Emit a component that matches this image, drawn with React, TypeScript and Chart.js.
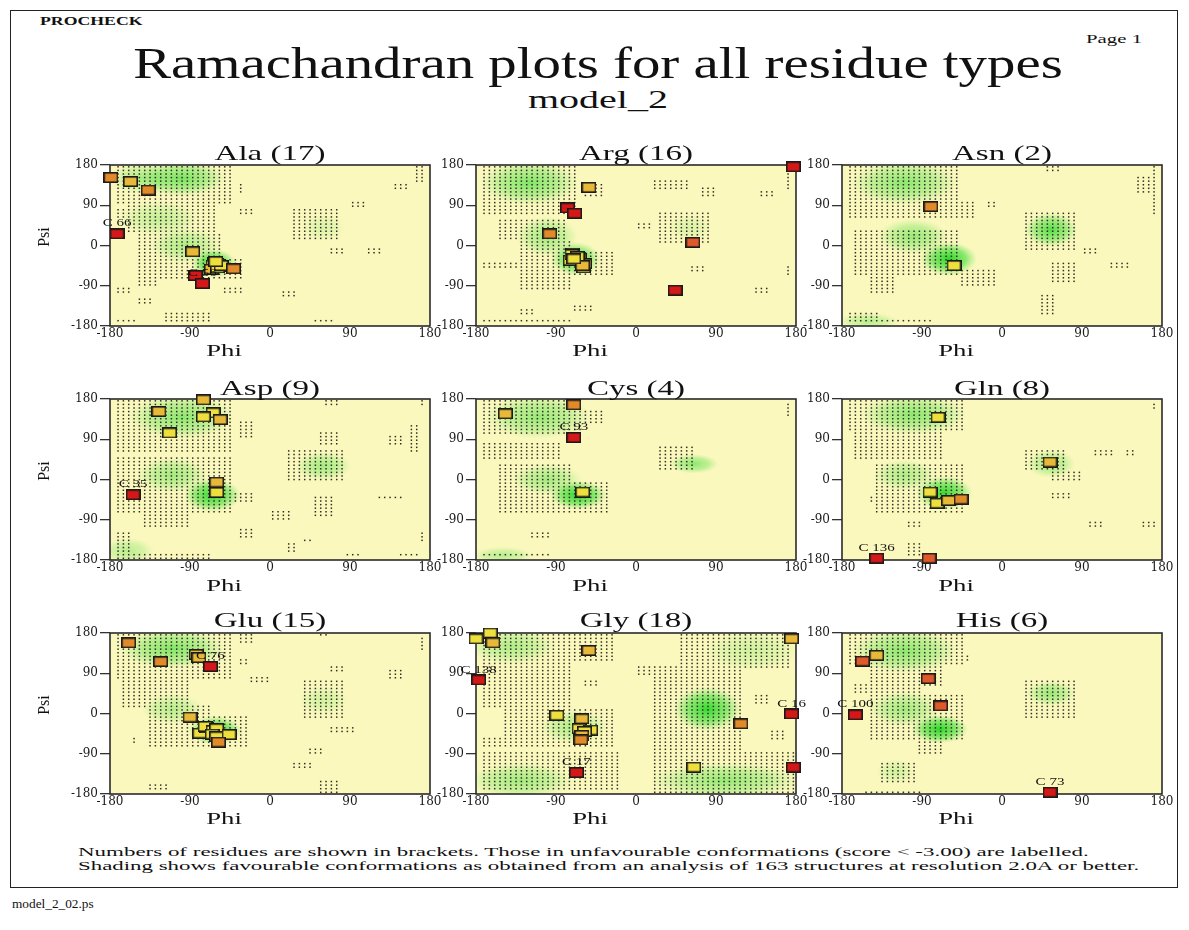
import React, { useEffect, useLayoutEffect, useRef, useState } from "react";
import { Chart, registerables } from "chart.js";
Chart.register(...registerables);

// ---------- axis ticks ----------
const AXIS_TICKS = [-180, -90, 0, 90, 180];
const TICK_LABELS = ["-180", "-90", "0", "90", "180"];

// ---------- residue data (phi, psi, colour class 0=yellow .. 4=red) ----------
const ALA_PHI = [-179, -157, -137, -172, -87, -62, -60, -58, -64, -57, -66, -59, -55, -61, -41, -84, -76];
const ALA_PSI = [152, 143, 124, 26, -14, -38, -40, -42, -44, -47, -53, -50, -45, -36, -52, -67, -85];
const ALA_CLS = [2, 1, 2, 4, 1, 0, 0, 0, 0, 0, 1, 0, 0, 0, 2, 4, 4];
const ALA_LABELS: [number, string][] = [[3, "C 66"], [16, "C 56"]];

const ARG_PHI = [177, -53, -77, -69, -97, -71, -74, -64, -59, -58, -72, -66, -60, -70, 64, 44];
const ARG_PSI = [176, 130, 84, 72, 26, -17, -33, -28, -50, -41, -20, -25, -45, -30, 7, -100];
const ARG_CLS = [4, 1, 4, 4, 2, 0, 0, 0, 0, 0, 0, 0, 1, 0, 3, 4];
const ARG_LABELS: [number, string][] = [];

const ASN_PHI = [-80, -54];
const ASN_PSI = [87, -45];
const ASN_CLS = [2, 0];
const ASN_LABELS: [number, string][] = [];

const ASP_PHI = [-75, -125, -64, -75, -56, -113, -60, -60, -154];
const ASP_PSI = [178, 152, 149, 140, 134, 104, -6, -29, -34];
const ASP_CLS = [1, 1, 0, 0, 1, 0, 1, 0, 4];
const ASP_LABELS: [number, string][] = [[8, "C 35"]];

const CYS_PHI = [-147, -70, -70, -60];
const CYS_PSI = [147, 167, 94, -28];
const CYS_CLS = [1, 2, 4, 0];
const CYS_LABELS: [number, string][] = [[2, "C 93"]];

const GLN_PHI = [-72, 54, -81, -73, -60, -46, -141, -82];
const GLN_PSI = [139, 39, -28, -53, -47, -44, -176, -176];
const GLN_CLS = [0, 1, 0, 0, 1, 2, 4, 3];
const GLN_LABELS: [number, string][] = [[6, "C 136"]];

const GLU_PHI = [-159, -123, -83, -80, -67, -90, -79, -71, -73, -64, -60, -65, -60, -46, -58];
const GLU_PSI = [158, 116, 132, 125, 105, -8, -44, -32, -29, -38, -34, -46, -52, -47, -64];
const GLU_CLS = [2, 2, 1, 1, 4, 1, 0, 0, 0, 0, 0, 0, 0, 0, 2];
const GLU_LABELS: [number, string][] = [[4, "C 76"]];

const GLY_PHI = [-180, -164, -161, -53, 175, -177, -89, -61, -64, -51, -58, -61, -62, 118, 175, 177, 65, -67];
const GLY_PSI = [167, 180, 158, 141, 167, 75, -4, -12, -34, -37, -40, -49, -59, -23, -1, -120, -120, -132];
const GLY_CLS = [0, 0, 1, 1, 1, 4, 0, 1, 0, 0, 0, 1, 2, 2, 4, 4, 0, 4];
const GLY_LABELS: [number, string][] = [[5, "C 138"], [14, "C 16"], [17, "C 17"]];

const HIS_PHI = [-157, -141, -83, -69, -165, 54];
const HIS_PSI = [117, 130, 78, 17, -3, -176];
const HIS_CLS = [3, 1, 3, 3, 4, 4];
const HIS_LABELS: [number, string][] = [[4, "C 100"], [5, "C 73"]];

// ---------- favourable-region shading: [phi, psi, rPhi, rPsi, strength] ----------
const ALA_GREEN = [[-100, 150, 50, 40, 0.6], [-145, 150, 35, 35, 0.35], [-63, -40, 25, 32, 0.95], [-95, 0, 40, 40, 0.35], [-125, 60, 45, 40, 0.25], [60, 40, 25, 30, 0.15]];
const ARG_GREEN = [[-120, 140, 55, 50, 0.55], [-68, -30, 28, 38, 0.8], [-100, 20, 35, 45, 0.4], [60, 40, 25, 30, 0.15]];
const ASN_GREEN = [[-110, 140, 60, 50, 0.5], [-60, -30, 32, 38, 0.95], [-100, 20, 40, 40, 0.45], [55, 35, 30, 38, 0.75], [-150, -170, 35, 20, 0.3]];
const ASP_GREEN = [[-100, 140, 60, 50, 0.5], [-65, -35, 32, 38, 0.9], [-110, 10, 40, 40, 0.4], [60, 30, 32, 32, 0.4], [-160, -160, 30, 30, 0.3]];
const CYS_GREEN = [[-110, 140, 60, 50, 0.45], [-65, -35, 32, 32, 0.95], [-100, 0, 40, 35, 0.4], [65, 35, 28, 22, 0.5], [-150, -170, 35, 20, 0.3]];
const GLN_GREEN = [[-100, 145, 60, 45, 0.5], [-65, -30, 32, 38, 0.9], [-110, 10, 35, 35, 0.35], [55, 35, 28, 32, 0.4]];
const GLU_GREEN = [[-110, 145, 60, 45, 0.55], [-62, -38, 30, 32, 0.95], [-110, 10, 35, 35, 0.3], [60, 30, 28, 32, 0.2]];
const GLY_GREEN = [[80, 10, 38, 50, 0.9], [-70, -30, 38, 38, 0.35], [-140, 150, 50, 40, 0.35], [100, -150, 85, 40, 0.45], [-130, -150, 60, 40, 0.4], [130, 140, 55, 45, 0.2]];
const HIS_GREEN = [[-110, 140, 60, 50, 0.5], [-70, -35, 32, 32, 0.95], [-110, 10, 40, 40, 0.4], [55, 45, 28, 28, 0.45], [-120, -130, 22, 28, 0.2]];

// ---------- stippled regions: [phiMin, phiMax, psiMin, psiMax] ----------
const ALA_DOTS = [[-176, -45, 95, 176], [-37, -28, 117, 143], [-37, -18, 69, 87], [-176, -146, 57, 87], [-160, -60, 28, 95], [-150, -52, -76, 28], [-52, -28, -76, -30], [-150, -124, -91, -39], [-176, -154, -110, -91], [-150, -133, -135, -113], [-120, -67, -173, -147], [-174, -150, -172, -166], [-54, -33, -110, -91], [10, 29, -117, -98], [49, 70, -173, -161], [25, 78, 13, 80], [66, 85, -20, -2], [106, 127, -20, -2], [89, 110, 87, 102], [138, 157, 121, 143], [160, 172, 139, 176]];
const ARG_DOTS = [[-172, -68, 69, 176], [-62, -34, 106, 139], [-158, -77, 13, 61], [-129, -70, -98, 13], [-85, -27, -69, -9], [-172, -133, -50, -35], [-133, -115, -154, -143], [-70, -51, -150, -128], [-172, -70, -173, -165], [1, 20, 35, 54], [26, 84, 2, 76], [16, 61, 124, 150], [73, 91, 110, 135], [136, 155, 106, 124], [170, 176, 124, 161], [58, 76, -58, -43], [131, 150, -109, -91], [170, 176, -69, -46]];
const ASN_DOTS = [[-174, -51, 61, 176], [-49, -28, 61, 102], [-15, -4, 84, 102], [-167, -51, -69, 39], [-51, -4, -91, -54], [-150, -118, -109, -46], [-174, -141, -169, -147], [-141, -77, -173, -165], [24, 84, -13, 72], [88, 109, -20, -2], [56, 82, -83, -35], [122, 141, -50, -35], [41, 60, -158, -106], [49, 67, 161, 176], [152, 171, 113, 154], [169, 173, 69, 176]];
const ASP_DOTS = [[-176, -45, 59, 178], [-37, -18, 93, 134], [-172, -45, -75, 52], [-45, -18, -49, -27], [-142, -90, -105, -75], [-37, -18, -128, -105], [-174, -154, -172, -120], [-176, -67, -176, -161], [1, 21, -90, -72], [18, 83, -1, 70], [49, 70, -83, -34], [59, 78, 163, 178], [57, 76, 74, 104], [18, 31, -165, -143], [36, 46, -143, -131], [81, 100, -172, -161], [123, 149, -45, -34], [130, 149, 78, 96], [155, 170, 59, 126], [170, 173, 167, 178], [147, 166, -172, -161], [170, 173, -143, -120]];
const CYS_DOTS = [[-176, -60, 96, 178], [-60, -35, 122, 160], [-174, -82, 44, 81], [-159, -71, -75, 37], [-71, -28, -75, -1], [-120, -99, -131, -113], [-176, -93, -172, -161], [23, 68, 22, 78], [170, 173, 141, 175]];
const GLN_DOTS = [[-174, -43, 108, 178], [-167, -69, 44, 108], [-144, -43, -79, 37], [-152, -135, -49, -34], [-111, -92, -109, -90], [-111, -92, -172, -139], [24, 69, 22, 70], [51, 92, -1, 22], [56, 75, -42, -27], [105, 126, 55, 70], [137, 148, 55, 70], [96, 116, -109, -90], [159, 172, -109, -90], [169, 173, 160, 175]];
const GLU_DOTS = [[-174, -45, 74, 178], [-37, -18, 152, 178], [-37, -26, 108, 126], [-22, -3, 66, 85], [-167, -90, 14, 74], [-137, -67, -75, 22], [-67, -26, -75, -8], [-159, -148, -68, -49], [-137, -116, -173, -154], [34, 81, -12, 78], [66, 85, 93, 111], [66, 93, -42, -27], [44, 61, -94, -75], [25, 46, -124, -109], [51, 76, -176, -146], [51, 68, 175, 179], [130, 149, 74, 96], [170, 173, 137, 171]];
const GLY_DOTS = [[-176, -27, 115, 178], [-176, -70, 14, 115], [-62, -43, 59, 78], [1, 20, 85, 104], [-152, -27, -75, 14], [-176, -148, -79, -53], [-176, -21, -173, -83], [50, 174, 104, 178], [16, 120, -83, 104], [130, 150, 20, 40], [150, 165, -60, -40], [16, 179, -180, -83]];
const HIS_DOTS = [[-174, -43, 111, 178], [-39, -34, 119, 134], [-152, -69, 59, 111], [-167, -92, 40, 70], [-152, -43, -60, 40], [-96, -69, -94, -60], [-137, -99, -158, -109], [-159, -92, -176, -173], [24, 84, -12, 78]];

const NAMES = ["Ala", "Arg", "Asn", "Asp", "Cys", "Gln", "Glu", "Gly", "His"];
const COUNTS = [17, 16, 2, 9, 4, 8, 15, 18, 6];

const PANELS = [
  { phi: ALA_PHI, psi: ALA_PSI, cls: ALA_CLS, labels: ALA_LABELS, green: ALA_GREEN, dots: ALA_DOTS },
  { phi: ARG_PHI, psi: ARG_PSI, cls: ARG_CLS, labels: ARG_LABELS, green: ARG_GREEN, dots: ARG_DOTS },
  { phi: ASN_PHI, psi: ASN_PSI, cls: ASN_CLS, labels: ASN_LABELS, green: ASN_GREEN, dots: ASN_DOTS },
  { phi: ASP_PHI, psi: ASP_PSI, cls: ASP_CLS, labels: ASP_LABELS, green: ASP_GREEN, dots: ASP_DOTS },
  { phi: CYS_PHI, psi: CYS_PSI, cls: CYS_CLS, labels: CYS_LABELS, green: CYS_GREEN, dots: CYS_DOTS },
  { phi: GLN_PHI, psi: GLN_PSI, cls: GLN_CLS, labels: GLN_LABELS, green: GLN_GREEN, dots: GLN_DOTS },
  { phi: GLU_PHI, psi: GLU_PSI, cls: GLU_CLS, labels: GLU_LABELS, green: GLU_GREEN, dots: GLU_DOTS },
  { phi: GLY_PHI, psi: GLY_PSI, cls: GLY_CLS, labels: GLY_LABELS, green: GLY_GREEN, dots: GLY_DOTS },
  { phi: HIS_PHI, psi: HIS_PSI, cls: HIS_CLS, labels: HIS_LABELS, green: HIS_GREEN, dots: HIS_DOTS },
];

// ---------- layout ----------
const PLOT_LEFT = [110, 476, 842];
const PLOT_TOP = [165, 399, 633];
const PLOT_W = 320;
const PLOT_H = 161;
const AXIS_W = 80;
const PAD_TOP = 12;
const PAD_R = 25;
const XAXIS_H = 30;
const CW = AXIS_W + PLOT_W + PAD_R;
const CH = PAD_TOP + PLOT_H + XAXIS_H;
const TITLE_Y = [153, 388, 620];
const PHI_Y = [351, 586, 819];

const MARKER_COLORS = ["#EEE03C", "#E8B838", "#E08A2A", "#DE5A2A", "#D41818"];
const PLOT_BG = "#FBF8BE";

let markerCache: HTMLCanvasElement[] | null = null;
function markers() {
  if (markerCache) return markerCache;
  markerCache = MARKER_COLORS.map((c) => {
    const cv = document.createElement("canvas");
    cv.width = 15;
    cv.height = 11;
    const ctx = cv.getContext("2d")!;
    ctx.fillStyle = c;
    ctx.fillRect(1, 1, 13, 9);
    ctx.strokeStyle = "#1a1a1a";
    ctx.lineWidth = 1.6;
    ctx.strokeRect(0.8, 0.8, 13.4, 9.4);
    return cv;
  });
  return markerCache;
}

const ramaPlugin = {
  id: "rama",
  beforeDatasetsDraw(chart: any, _a: any, opts: any) {
    const { ctx, chartArea: a, scales } = chart;
    const xs = scales.x, ys = scales.y;
    ctx.save();
    ctx.fillStyle = PLOT_BG;
    ctx.fillRect(a.left, a.top, a.right - a.left, a.bottom - a.top);
    ctx.beginPath();
    ctx.rect(a.left, a.top, a.right - a.left, a.bottom - a.top);
    ctx.clip();
    // green shading
    for (const g of opts.green) {
      const cx = xs.getPixelForValue(g[0]);
      const cy = ys.getPixelForValue(g[1]);
      const rx = Math.abs(xs.getPixelForValue(g[0] + g[2]) - cx);
      const ry = Math.abs(ys.getPixelForValue(g[1] + g[3]) - cy);
      ctx.save();
      ctx.translate(cx, cy);
      ctx.scale(rx, ry);
      const grad = ctx.createRadialGradient(0, 0, 0, 0, 0, 1);
      grad.addColorStop(0, `rgba(30,215,30,${g[4]})`);
      grad.addColorStop(0.6, `rgba(70,222,60,${g[4] * 0.65})`);
      grad.addColorStop(1, "rgba(120,230,100,0)");
      ctx.fillStyle = grad;
      ctx.beginPath();
      ctx.arc(0, 0, 1, 0, Math.PI * 2);
      ctx.fill();
      ctx.restore();
    }
    // stipple
    const dx = (a.right - a.left) / 60;
    const dy = (a.bottom - a.top) / 45;
    const seen = new Set<string>();
    ctx.fillStyle = "#2e2e22";
    for (const r of opts.dots) {
      const x0 = xs.getPixelForValue(r[0]), x1 = xs.getPixelForValue(r[1]);
      const y0 = ys.getPixelForValue(r[3]), y1 = ys.getPixelForValue(r[2]);
      const i0 = Math.ceil((x0 - a.left - dx / 2) / dx), i1 = Math.floor((x1 - a.left - dx / 2) / dx);
      const j0 = Math.ceil((y0 - a.top - dy / 2) / dy), j1 = Math.floor((y1 - a.top - dy / 2) / dy);
      for (let i = i0; i <= i1; i++) {
        for (let j = j0; j <= j1; j++) {
          const k = i + ":" + j;
          if (seen.has(k)) continue;
          seen.add(k);
          ctx.fillRect(a.left + dx / 2 + i * dx - 0.7, a.top + dy / 2 + j * dy - 0.7, 1.5, 1.5);
        }
      }
    }
    ctx.restore();
    // frame
    ctx.save();
    ctx.strokeStyle = "#2a2a2a";
    ctx.lineWidth = 1.6;
    ctx.strokeRect(a.left, a.top, a.right - a.left, a.bottom - a.top);
    ctx.restore();
  },
  afterDatasetsDraw(chart: any, _a: any, opts: any) {
    const { ctx } = chart;
    const meta = chart.getDatasetMeta(0);
    ctx.save();
    ctx.fillStyle = "#111";
    ctx.font = "10px 'Liberation Serif'";
    ctx.textAlign = "center";
    ctx.textBaseline = "middle";
    for (const [i, t] of opts.labels) {
      const pt = meta.data[i];
      if (!pt) continue;
      ctx.save();
      ctx.translate(pt.x, pt.y - 10);
      ctx.scale(1.5, 1);
      ctx.fillText(t, 0, 0);
      ctx.restore();
    }
    ctx.restore();
  },
};

function makeConfig(p: any): any {
  const tickFont = { family: "'DejaVu Serif'", size: 12 };
  const setTicks = (s: any) => {
    s.ticks = AXIS_TICKS.map((v) => ({ value: v }));
  };
  const fmt = (v: any) => {
    const i = AXIS_TICKS.indexOf(Number(v));
    return i >= 0 ? TICK_LABELS[i] : "";
  };
  return {
    type: "scatter",
    data: {
      datasets: [
        {
          data: p.phi.map((x: number, i: number) => ({ x, y: p.psi[i] })),
          pointStyle: p.cls.map((c: number) => markers()[c]),
          pointRadius: 6,
          clip: false,
        },
      ],
    },
    options: {
      animation: false,
      responsive: false,
      maintainAspectRatio: false,
      events: [],
      layout: { padding: { top: PAD_TOP, right: PAD_R, left: 0, bottom: 0 } },
      plugins: {
        legend: { display: false },
        tooltip: { enabled: false },
        rama: { green: p.green, dots: p.dots, labels: p.labels },
      },
      scales: {
        x: {
          type: "linear",
          min: -180,
          max: 180,
          afterBuildTicks: setTicks,
          afterFit: (s: any) => {
            s.height = XAXIS_H;
          },
          ticks: { callback: fmt, font: tickFont, color: "#1a1a1a", padding: 1, maxRotation: 0, autoSkip: false },
          grid: { display: false, drawTicks: false },
          border: { display: false },
        },
        y: {
          type: "linear",
          min: -180,
          max: 180,
          afterBuildTicks: setTicks,
          afterFit: (s: any) => {
            s.width = AXIS_W;
          },
          ticks: { callback: fmt, font: tickFont, color: "#1a1a1a", padding: 2, autoSkip: false },
          grid: { display: true, drawOnChartArea: false, drawTicks: true, tickLength: 10, color: "#333", lineWidth: 1.3 },
          border: { display: false },
        },
      },
    },
    plugins: [ramaPlugin],
  };
}

function Panel({ idx }: { idx: number }) {
  const ref = useRef<HTMLCanvasElement>(null);
  const col = idx % 3;
  const row = Math.floor(idx / 3);
  useEffect(() => {
    const chart = new Chart(ref.current!, makeConfig(PANELS[idx]));
    return () => chart.destroy();
  }, [idx]);
  return (
    <canvas
      ref={ref}
      width={CW}
      height={CH}
      style={{ position: "absolute", left: PLOT_LEFT[col] - AXIS_W, top: PLOT_TOP[row] - PAD_TOP, width: CW, height: CH }}
    />
  );
}

function Txt(props: {
  x: number;
  y: number;
  text: string;
  size: number;
  w?: number;
  sx?: number;
  align?: "left" | "center";
  weight?: string;
  family?: string;
  rotate?: number;
}) {
  const { x, y, text, size, w, sx, align = "left", weight = "normal", family = "'Liberation Serif'", rotate = 0 } = props;
  const ref = useRef<HTMLDivElement>(null);
  const [scale, setScale] = useState(sx ?? 1);
  useLayoutEffect(() => {
    if (w && ref.current) {
      const nat = ref.current.offsetWidth;
      if (nat > 0) setScale(w / nat);
    }
  }, [w, text]);
  const tr =
    (align === "center" ? "translateX(-50%) " : "") + (rotate ? `rotate(${rotate}deg) ` : "") + `scaleX(${scale})`;
  return (
    <div
      ref={ref}
      style={{
        position: "absolute",
        left: x,
        top: y - size / 2,
        fontSize: size,
        lineHeight: `${size}px`,
        fontFamily: family,
        fontWeight: weight as any,
        whiteSpace: "nowrap",
        transformOrigin: align === "center" ? "center center" : "left center",
        transform: tr,
        color: "#111",
      }}
    >
      {text}
    </div>
  );
}

export default function App() {
  return (
    <div style={{ position: "absolute", left: 0, top: 0, width: 1189, height: 930, background: "#fff", overflow: "hidden" }}>
      <div style={{ position: "absolute", left: 10, top: 10, width: 1166, height: 876, border: "1.5px solid #222" }} />
      <Txt x={40} y={21} text="PROCHECK" size={12} w={102} weight="bold" />
      <Txt x={1086} y={38} text="Page  1" size={13} w={56} />
      <Txt x={598} y={64} text="Ramachandran plots for all residue types" size={44} w={930} align="center" />
      <Txt x={598} y={100} text="model_2" size={26} w={140} align="center" />
      {PANELS.map((_, i) => (
        <Panel key={"p" + i} idx={i} />
      ))}
      {NAMES.map((n, i) => {
        const col = i % 3;
        const row = Math.floor(i / 3);
        return (
          <React.Fragment key={"t" + i}>
            <Txt x={PLOT_LEFT[col] + PLOT_W / 2} y={TITLE_Y[row]} text={`${n} (${COUNTS[i]})`} size={22} sx={1.5} align="center" />
            <Txt x={PLOT_LEFT[col] + 114} y={PHI_Y[row]} text="Phi" size={16} w={35} align="center" />
          </React.Fragment>
        );
      })}
      {[0, 1, 2].map((r) => (
        <Txt key={"psi" + r} x={44} y={PLOT_TOP[r] + 72} text="Psi" size={16} align="center" rotate={-90} />
      ))}
      <Txt
        x={78}
        y={852}
        text="Numbers of residues are shown in brackets. Those in unfavourable conformations (score < -3.00) are labelled."
        size={12}
        w={1010}
      />
      <Txt
        x={78}
        y={866}
        text="Shading shows favourable conformations as obtained from an analysis of 163 structures at resolution 2.0A or better."
        size={12}
        w={1062}
      />
      <Txt x={12} y={904} text="model_2_02.ps" size={12} w={82} />
    </div>
  );
}
